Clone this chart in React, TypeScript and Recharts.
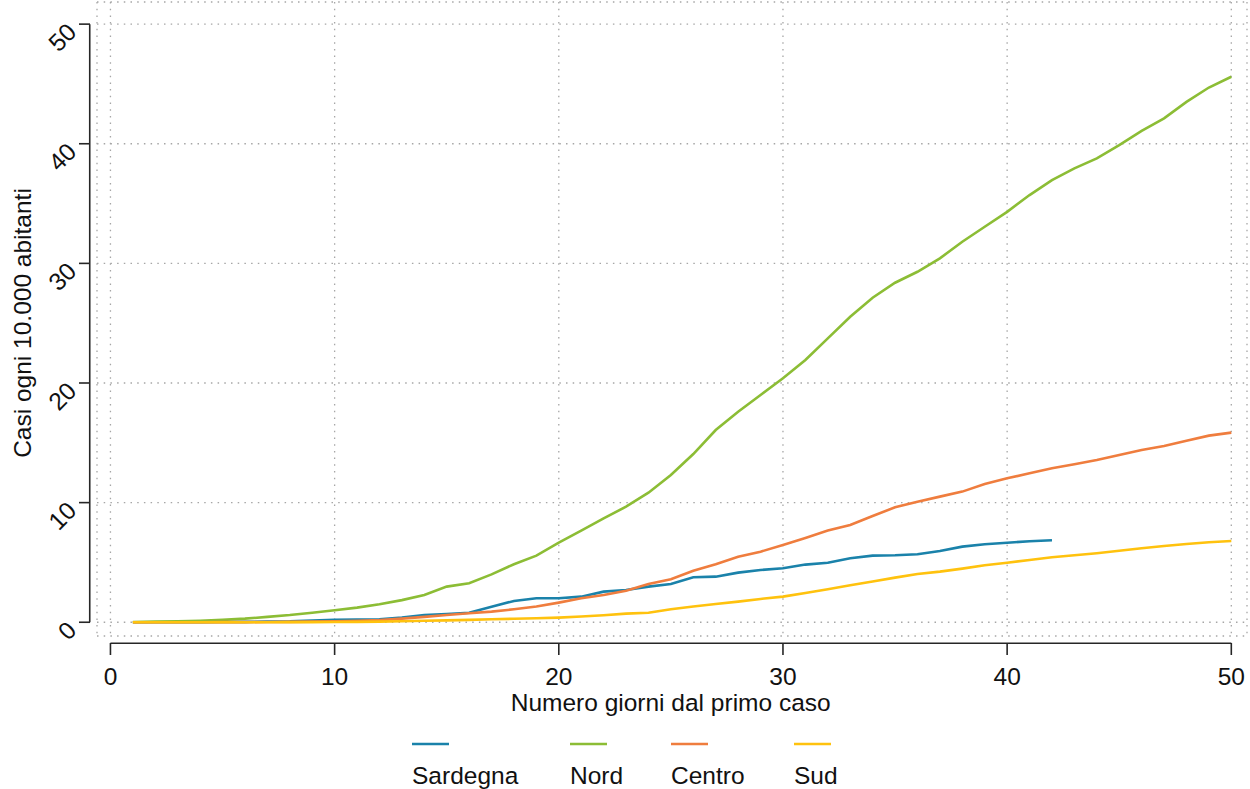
import React from "react";
import { LineChart, Line, XAxis, YAxis, CartesianGrid, ReferenceLine } from "recharts";

const days = [1,2,3,4,5,6,7,8,9,10,11,12,13,14,15,16,17,18,19,20,21,22,23,24,25,26,27,28,29,30,31,32,33,34,35,36,37,38,39,40,41,42,43,44,45,46,47,48,49,50];
const sardegna = [0,0,0,0.01,0.02,0.03,0.05,0.07,0.15,0.2,0.22,0.25,0.4,0.6,0.69,0.8,1.3,1.78,2.0,2.0,2.14,2.56,2.7,2.98,3.2,3.76,3.81,4.15,4.37,4.51,4.82,4.98,5.35,5.57,5.6,5.68,5.96,6.32,6.52,6.65,6.77,6.85];
const nord = [0.02,0.05,0.08,0.13,0.2,0.3,0.45,0.6,0.8,1.0,1.22,1.5,1.85,2.28,2.98,3.26,4.0,4.85,5.57,6.65,7.66,8.69,9.66,10.83,12.31,14.06,16.07,17.6,19.0,20.39,21.92,23.73,25.54,27.13,28.38,29.3,30.42,31.81,33.06,34.31,35.71,36.96,37.94,38.78,39.89,41.08,42.12,43.5,44.7,45.6];
const centro = [0,0,0,0,0.01,0.01,0.02,0.03,0.05,0.08,0.12,0.18,0.3,0.45,0.6,0.75,0.89,1.08,1.31,1.64,2.0,2.28,2.64,3.2,3.59,4.31,4.85,5.48,5.9,6.46,7.05,7.66,8.13,8.88,9.61,10.08,10.5,10.92,11.56,12.03,12.45,12.87,13.2,13.56,13.98,14.4,14.73,15.18,15.6,15.85];
const sud = [0,0,0,0,0,0,0,0.01,0.01,0.02,0.03,0.05,0.08,0.12,0.16,0.2,0.25,0.29,0.34,0.39,0.48,0.58,0.72,0.8,1.08,1.31,1.53,1.72,1.95,2.14,2.45,2.76,3.09,3.4,3.73,4.04,4.23,4.48,4.76,4.98,5.2,5.43,5.6,5.77,5.98,6.18,6.38,6.54,6.69,6.79];

const xTicks = [0, 10, 20, 30, 40, 50];
const yTicks = [0, 10, 20, 30, 40, 50];

const seriesNames = ["Sardegna", "Nord", "Centro", "Sud"];
const seriesKeys = ["sardegna", "nord", "centro", "sud"];
const seriesColors = ["#1a82aa", "#8cbd35", "#ef7d3e", "#ffc20e"];

const data = days.map((d, i) => ({
  day: d,
  sardegna: i < sardegna.length ? sardegna[i] : null,
  nord: nord[i],
  centro: centro[i],
  sud: sud[i],
}));

const FONT = "'Liberation Sans', Arial, sans-serif";
const FS = 24.5;
const AXIS = "#262626";

const XTick = (props: any) => {
  const { x, payload } = props;
  return (
    <g>
      <line x1={x} x2={x} y1={643} y2={655} stroke={AXIS} strokeWidth={1.6} />
      <text x={x} y={685} textAnchor="middle" fontFamily={FONT} fontSize={FS} fill="#111">
        {payload.value}
      </text>
    </g>
  );
};

const YTick = (props: any) => {
  const { y, payload } = props;
  const ax = 72;
  const ay = y + 3.5;
  return (
    <g>
      <line x1={79} x2={90} y1={y} y2={y} stroke={AXIS} strokeWidth={1.6} />
      <text
        x={ax}
        y={ay}
        textAnchor="end"
        dominantBaseline="central"
        transform={`rotate(-45 ${ax} ${ay})`}
        fontFamily={FONT}
        fontSize={FS}
        fill="#111"
      >
        {payload.value}
      </text>
    </g>
  );
};

const legendX = [412, 570, 671, 794];

export default function App() {
  return (
    <div style={{ position: "absolute", left: 0, top: 0, width: 1250, height: 789, background: "#fff" }}>
      <LineChart width={1250} height={789} data={data} margin={{ top: 2, right: 3, left: 0, bottom: 0 }}>
        <CartesianGrid stroke="#a6a6a6" strokeWidth={1.3} strokeDasharray="1.5 5.2" />
        <XAxis
          dataKey="day"
          type="number"
          domain={[-0.6, 50.7]}
          ticks={xTicks}
          height={153}
          axisLine={false}
          tickLine={false}
          tick={XTick}
          interval={0}
        />
        <YAxis
          type="number"
          domain={[-1.15, 51.85]}
          ticks={yTicks}
          width={97}
          axisLine={false}
          tickLine={false}
          tick={YTick}
          interval={0}
        />
        <ReferenceLine
          segment={[{ x: 0, y: -1.755 }, { x: 50, y: -1.755 }]}
          ifOverflow="visible"
          stroke={AXIS}
          strokeWidth={1.6}
        />
        <ReferenceLine
          segment={[{ x: -0.924, y: 0 }, { x: -0.924, y: 50 }]}
          ifOverflow="visible"
          stroke={AXIS}
          strokeWidth={1.6}
        />
        {seriesKeys.map((k, i) => (
          <Line
            key={k}
            dataKey={k}
            name={seriesNames[i]}
            type="linear"
            stroke={seriesColors[i]}
            strokeWidth={2.6}
            dot={false}
            activeDot={false}
            isAnimationActive={false}
          />
        ))}
      </LineChart>
      <svg
        width={1250}
        height={789}
        style={{ position: "absolute", left: 0, top: 0, pointerEvents: "none" }}
      >
        <text
          x={670.7}
          y={711}
          textAnchor="middle"
          fontFamily={FONT}
          fontSize={FS}
          fill="#111"
        >
          Numero giorni dal primo caso
        </text>
        <text
          x={31}
          y={323}
          textAnchor="middle"
          transform="rotate(-90 31 323)"
          fontFamily={FONT}
          fontSize={FS}
          fill="#111"
        >
          Casi ogni 10.000 abitanti
        </text>
        {seriesNames.map((n, i) => (
          <g key={n}>
            <line x1={legendX[i]} x2={legendX[i] + 37} y1={744} y2={744} stroke={seriesColors[i]} strokeWidth={2.6} />
            <text x={legendX[i]} y={784} fontFamily={FONT} fontSize={FS} fill="#111">
              {n}
            </text>
          </g>
        ))}
      </svg>
    </div>
  );
}
